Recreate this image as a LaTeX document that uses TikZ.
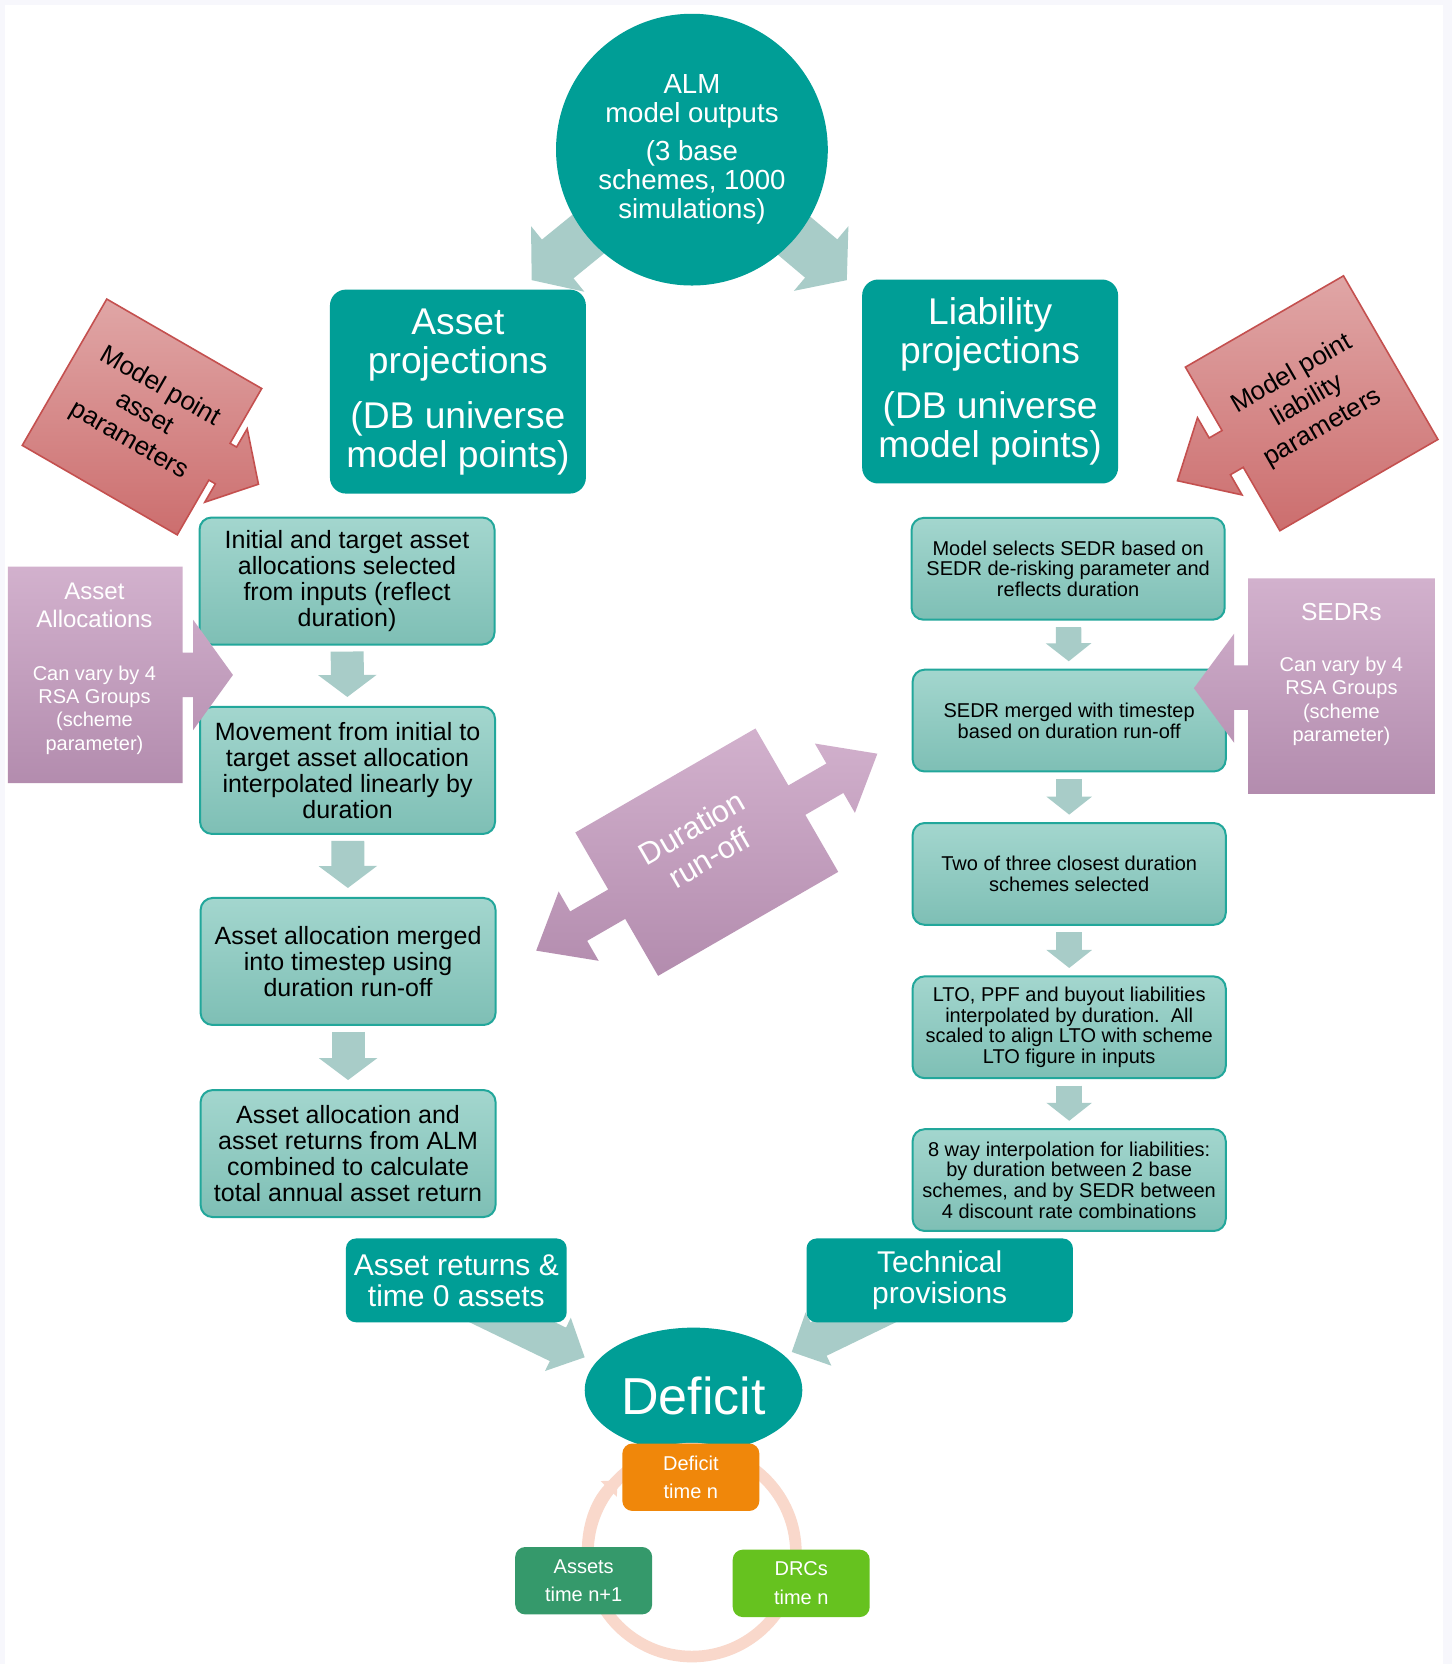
\documentclass[tikz,border=0pt]{standalone}
\usepackage{fontspec}
\setmainfont{Liberation Sans}
\usetikzlibrary{arrows.meta,shapes.geometric,backgrounds}

\definecolor{almteal}{HTML}{009E96}
\definecolor{arrowgrey}{HTML}{A8CCC8}
\definecolor{boxtop}{HTML}{A3D6CE}
\definecolor{boxbot}{HTML}{7EBFB5}
\definecolor{boxline}{HTML}{22A79B}
\definecolor{redtop}{HTML}{E0A6A6}
\definecolor{redbot}{HTML}{CC6E6E}
\definecolor{redline}{HTML}{C4504F}
\definecolor{purtop}{HTML}{D2B1CD}
\definecolor{purbot}{HTML}{B38CAE}
\definecolor{deforange}{HTML}{F0870A}
\definecolor{assetgreen}{HTML}{35996B}
\definecolor{drcgreen}{HTML}{66C21F}
\definecolor{ringpeach}{HTML}{F9D8CB}
\definecolor{framegrey}{HTML}{F7F7FC}

\begin{document}
\begin{tikzpicture}[x=0.5307pt,y=-0.5307pt,
  projbox/.style={rectangle, rounded corners=8pt, fill=almteal, text=white, inner sep=0pt, align=center,
    minimum width=128pt, minimum height=102pt, font=\fontsize{18.6}{19.5}\selectfont},
  lstep/.style={rectangle, rounded corners=6pt, draw=boxline, line width=1pt, top color=boxtop, bottom color=boxbot,
    inner sep=0pt, align=center, minimum width=147.5pt, minimum height=63.5pt, font=\fontsize{12.5}{13}\selectfont},
  rstep/.style={lstep, minimum width=156.6pt, minimum height=50.9pt, font=\fontsize{10}{10.4}\selectfont},
  smallbox/.style={rectangle, rounded corners=5pt, text=white, inner sep=0pt, align=center,
    minimum width=68.5pt, minimum height=33.7pt, font=\fontsize{10}{14.3}\selectfont},
  whitetext/.style={text=white, align=center, inner sep=0pt},
  ldown/.style={arrowgrey, line width=16.5pt, -{Triangle[length=11pt,width=28.7pt]}, shorten <=3pt, shorten >=4.5pt},
  rdown/.style={arrowgrey, line width=12.7pt, -{Triangle[length=9pt,width=22.3pt]}, shorten <=3.2pt, shorten >=3.7pt},
  fatarr/.style={arrowgrey, line width=25pt, -{Triangle[length=16.8pt,width=41.4pt]}},
  defarr/.style={arrowgrey, line width=18.6pt, -{Triangle[length=14.9pt,width=28.7pt]}}]

\useasboundingbox (0,0) rectangle (1368,1568);
\begin{scope}[on background layer]
\fill[framegrey] (0,0) rectangle (1368,1568);
\fill[white] (4.7,4.7) rectangle (1360,1568);
\end{scope}

\node[circle, fill=almteal, text=white, minimum size=135.9pt, inner sep=0pt, align=center,
  font=\fontsize{13.8}{14.6}\selectfont] (alm) at (652,141)
  {ALM\\model outputs\\[4.3pt](3 base\\schemes, 1000\\simulations)};

\node[projbox] (assetproj) at (431.5,369) {Asset\\projections\\[8pt](DB universe\\model points)};
\node[projbox] (liabproj) at (933,359.5) {Liability\\projections\\[8pt](DB universe\\model points)};

\node[lstep] (ainit) at (327,547.5) {Initial and target asset\\allocations selected\\from inputs (reflect\\duration)};
\node[lstep] (amove) at (327.5,726) {Movement from initial to\\target asset allocation\\interpolated linearly by\\duration};
\node[lstep] (amerge) at (328,906) {Asset allocation merged\\into timestep using\\duration run-off};
\node[lstep] (acomb) at (328,1087) {Asset allocation and\\asset returns from ALM\\combined to calculate\\total annual asset return};
\draw[ldown] (ainit) -- (amove);
\draw[ldown] (amove) -- (amerge);
\draw[ldown] (amerge) -- (acomb);

\node[rstep] (rsedr) at (1006.5,536) {Model selects SEDR based on\\SEDR de-risking parameter and\\reflects duration};
\node[rstep] (rmerge) at (1007.5,679) {SEDR merged with timestep\\based on duration run-off};
\node[rstep] (rclose) at (1007.5,823.5) {Two of three closest duration\\schemes selected};
\node[rstep] (rlto) at (1007.5,968) {LTO, PPF and buyout liabilities\\interpolated by duration.\ \ All\\scaled to align LTO with scheme\\LTO figure in inputs};
\node[rstep] (rinterp) at (1007.5,1112) {8 way interpolation for liabilities:\\by duration between 2 base\\schemes, and by SEDR between\\4 discount rate combinations};
\draw[rdown] (rsedr) -- (rmerge);
\draw[rdown] (rmerge) -- (rclose);
\draw[rdown] (rclose) -- (rlto);
\draw[rdown] (rlto) -- (rinterp);

\begin{scope}[shift={(133.8,392.9)}, rotate=-30]
\path[draw=redline, line width=0.8pt, top color=redtop, bottom color=redbot]
  (-84.3,-79.6) -- (84.3,-79.6) -- (84.3,-20) -- (91.4,-20) -- (91.4,-40) -- (126.7,0)
  -- (91.4,40) -- (91.4,20) -- (84.3,20) -- (84.3,79.6) -- (-84.3,79.6) -- cycle;
\end{scope}
\node[rotate=-30, align=center, font=\fontsize{13}{15.5}\selectfont] (mpasset) at (136,390) {Model point\\asset\\parameters};

\begin{scope}[shift={(1236,380)}, rotate=30]
\path[draw=redline, line width=0.8pt, top color=redtop, bottom color=redbot]
  (86,-89) -- (-86,-89) -- (-86,-20) -- (-100,-20) -- (-100,-42) -- (-146,0)
  -- (-100,42) -- (-100,20) -- (-86,20) -- (-86,89) -- (86,89) -- cycle;
\end{scope}
\node[rotate=30, align=center, font=\fontsize{13}{15.5}\selectfont] (mpliab) at (1232,378) {Model point\\liability\\parameters};

\shade[top color=purtop, bottom color=purbot]
  (7.5,534) -- (172,534) -- (172,615) -- (182,615) -- (182,584) -- (219.5,636)
  -- (182,688) -- (182,657) -- (172,657) -- (172,738) -- (7.5,738) -- cycle;
\node[whitetext, font=\fontsize{12}{14.3}\selectfont] (aatitle) at (89,570.5) {Asset\\Allocations};
\node[whitetext, font=\fontsize{10}{11.7}\selectfont] (aanote) at (89,669) {Can vary by 4\\RSA Groups\\(scheme\\parameter)};

\shade[top color=purtop, bottom color=purbot]
  (1352,545) -- (1176,545) -- (1176,627) -- (1163,627) -- (1163,597) -- (1125,648.5)
  -- (1163,700) -- (1163,669) -- (1176,669) -- (1176,748) -- (1352,748) -- cycle;
\node[whitetext, font=\fontsize{12.3}{14.3}\selectfont] (sedrtitle) at (1264,577) {SEDRs};
\node[whitetext, font=\fontsize{10}{11.7}\selectfont] (sedrnote) at (1264,661) {Can vary by 4\\RSA Groups\\(scheme\\parameter)};

\begin{scope}[shift={(666,803)}, rotate=30]
\shade[top color=purtop, bottom color=purbot]
  (-98,-78) -- (98,-78) -- (98,-16) -- (139.4,-16) -- (139.4,-37.7) -- (185.6,0)
  -- (139.4,37.7) -- (139.4,16) -- (98,16) -- (98,78) -- (-98,78) -- (-98,16)
  -- (-139.4,16) -- (-139.4,37.7) -- (-185.6,0) -- (-139.4,-37.7) -- (-139.4,-16) -- (-98,-16) -- cycle;
\end{scope}
\node[whitetext, rotate=30, font=\fontsize{15.4}{17.3}\selectfont] (durrun) at (660,794) {Duration\\run-off};

\node[projbox, minimum width=110.4pt, minimum height=41.9pt, rounded corners=5pt,
  font=\fontsize{15}{15.4}\selectfont] (assetret) at (430,1206.5) {Asset returns \&\\time 0 assets};
\node[projbox, minimum width=133.2pt, minimum height=41.9pt, rounded corners=5pt,
  font=\fontsize{15}{15.4}\selectfont] (techprov) at (885.5,1206.5) {Technical\\provisions};

\node[ellipse, fill=almteal, text=white, minimum width=108.8pt, minimum height=62.6pt, inner sep=0pt,
  text height=24.3pt, text depth=0pt, font=\fontsize{26}{26}\selectfont] (deficit) at (653.5,1310) {Deficit};

\node[circle, draw=ringpeach, line width=5.8pt, minimum size=104pt, inner sep=0pt] (ring) at (652,1463) {};
\draw[ringpeach, line width=5.8pt, -{Triangle[length=6pt,width=11pt]}]
  ([shift={(200:52pt)}]ring.center) arc[start angle=200, end angle=136, radius=52pt];

\node[smallbox, fill=deforange] (defn) at (651,1392) {Deficit\\time n};
\node[smallbox, fill=assetgreen] (assetn) at (550,1489.5) {Assets\\time n+1};
\node[smallbox, fill=drcgreen] (drcn) at (755,1492) {DRCs\\time n};

\begin{scope}[on background layer]
\coordinate (toasset) at (501,264);
\coordinate (toliab) at (798,264);
\coordinate (defL) at (551,1279);
\coordinate (defR) at (746,1274);
\draw[fatarr] (alm.center) -- (toasset);
\draw[fatarr] (alm.center) -- (toliab);
\draw[defarr] ([shift={(0,14)}]assetret.center) -- (defL);
\draw[defarr] (techprov.center) -- (defR);
\end{scope}
\end{tikzpicture}
\end{document}
